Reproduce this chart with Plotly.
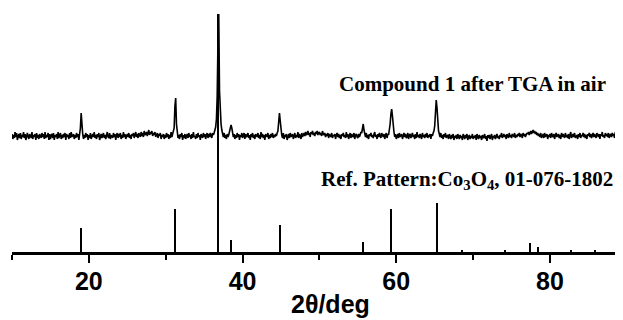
import numpy as np
import plotly.graph_objects as go

# ---------------- data ----------------
# Measured pattern (scan 10-90 deg, step 0.1 deg), intensity in a.u. above its own baseline
scan_start, scan_stop, scan_step = 10.0, 90.0, 0.1
trace_offset = 116  # vertical offset of the measured trace above the reference sticks

measured_intensity = [
    # 10.0 - 14.9
    2, -3, 1, -2, 4, -1, 3, -4, 0, 2, -2, 3, -3, 1, -1, 4, -2, 2, -4, 1,
    3, -1, -3, 2, 0, -2, 4, -3, 1, -1, 2, -4, 3, -2, 1, -3, 2, 0, -2, 3,
    -1, 2, -3, 4, -2, 1, -1, 3, -4, 2,
    # 15.0 - 19.9
    -3, 1, 2, -2, 3, -4, 1, -1, 2, -3, 4, -2, 0, 3, -3, 1, -2, 2, -1, 3,
    -4, 2, -1, 1, -3, 3, -2, 4, -1, 0, 2, -3, 1, -2, 3, -1, 2, -4, 3, 8,
    23, 8, 2, -3, 1, -2, 3, -1, 2, -4,
    # 20.0 - 24.9
    1, -2, 3, -3, 0, 2, -1, 4, -2, 1, -3, 2, -1, 3, -4, 1, 2, -2, 0, 3,
    -2, 1, -3, 2, 4, -1, -2, 3, -3, 1, 0, -2, 3, -1, 2, -4, 1, 3, -2, 2,
    -1, 3, -3, 1, -2, 4, -1, 2, -3, 0,
    # 25.0 - 29.9
    2, -1, 3, -2, 1, -3, 2, 0, 3, -2, 1, 4, -1, 2, -2, 3, 1, -1, 4, 0,
    3, -1, 5, 1, 2, 4, 0, 3, 6, 1, 4, 2, 5, 0, 3, 1, 4, -1, 2, 3,
    -2, 2, 0, 3, -3, 1, -1, 2, -3, 1,
    # 30.0 - 34.9
    -2, 3, -1, 2, -3, 1, -2, 4, -1, 2, 3, 8, 30, 38, 12, 4, -2, 1, -3, 2,
    -1, 3, -4, 1, -2, 2, -3, 0, 2, -2, 3, -1, 1, -3, 2, -2, 4, -1, 0, -3,
    2, -2, 3, -1, 1, -4, 2, 0, -2, 3,
    # 35.0 - 39.9
    -1, 2, -3, 1, 3, -2, 2, -1, 3, 0, -2, 3, 1, 3, 5, 9, 17, 40, 95, 122,
    45, 19, 12, 6, 2, -1, 3, -2, 1, -3, 2, -1, 1, 4, 7, 11, 8, 3, -1, 2,
    -3, 1, -2, 3, -1, 2, -4, 1, -1, 3,
    # 40.0 - 44.9
    -2, 1, 3, -3, 2, -1, 0, 3, -2, 1, -4, 2, -1, 3, -2, 1, -3, 2, 0, -1,
    3, -2, 1, -3, 4, -1, 2, -2, 1, -4, 2, 0, -1, 3, -3, 1, -2, 2, -1, 3,
    -2, 1, -1, 2, 0, 3, 5, 14, 23, 15,
    # 45.0 - 49.9
    5, 1, -2, 3, -3, 1, -1, 2, -4, 1, 2, -2, 3, -1, 0, 2, -3, 1, 3, -2,
    1, -1, 4, -2, 2, 0, -3, 3, -1, 1, 3, 0, 4, 1, 2, 5, 1, 3, -1, 4,
    2, 5, 1, 3, 0, 4, 2, 5, 1, 3,
    # 50.0 - 54.9
    4, 1, 3, 0, 5, 2, 1, 3, -1, 2, 0, 3, -2, 2, 1, -1, 3, -2, 1, 0,
    2, -3, 1, 3, -1, 2, -2, 1, -3, 2, 0, 3, -1, 1, -2, 4, -1, 2, -3, 1,
    3, -2, 2, 0, -1, 3, -3, 1, 2, -1,
    # 55.0 - 59.9
    -2, 2, -1, 1, 4, 3, 7, 12, 6, 2, -1, 3, -2, 1, -3, 2, 0, 3, -1, 1,
    -2, 2, 4, -1, 1, -3, 2, -1, 3, 0, -2, 3, 1, -1, 2, -3, 1, 3, -2, 2,
    1, 5, 12, 22, 27, 20, 9, 4, -1, 2,
    # 60.0 - 64.9
    -3, 1, 2, -2, 3, -1, 0, 2, -3, 1, 3, -1, 2, -2, -1, 3, -3, 1, 2, -2,
    0, 3, -1, 1, -3, 2, -2, 4, -1, 1, -2, 2, 0, -3, 3, -1, 1, -2, 2, -1,
    3, -2, 1, -1, 2, -3, 2, 0, 3, 5,
    # 65.0 - 69.9
    10, 24, 36, 28, 12, 5, 2, -1, 3, -2, 1, -3, 2, -1, 3, -2, 0, 1, -3, 2,
    -1, -3, 1, -2, 2, -4, 0, -2, 1, -3, 2, -1, -3, 1, -2, 0, -4, 2, -1, -3,
    1, -2, 2, -4, -1, 1, -3, 0, -2, 2,
    # 70.0 - 74.9
    -3, 0, -2, 1, -4, 2, -1, -3, 1, -2, 0, -4, 1, -2, -1, 2, -3, 0, -5, 1,
    -2, 1, -3, -1, 2, -4, 0, -2, 1, -3, -1, 2, -2, 0, -3, 1, -1, 3, -2, 0,
    2, -1, 1, -3, 2, 0, -2, 3, -1, 1,
    # 75.0 - 79.9
    -2, 2, 0, -1, 3, -2, 1, -1, 2, 0, 3, -1, 2, 1, -2, 3, 0, 2, -1, 1,
    3, 2, 4, 1, 3, 5, 2, 4, 6, 3, 5, 2, 4, 1, 3, 0, 2, -1, 3, -2,
    1, 2, -2, 3, -1, 0, 2, -3, 1, -1,
    # 80.0 - 84.9
    2, -2, 3, 0, -1, 2, -3, 1, 3, -1, 0, 2, -2, 1, -3, 3, -1, 2, 0, -2,
    3, -1, 1, -2, 2, -3, 1, 4, -2, 0, 2, -1, 3, -2, 0, 1, -3, 2, -1, 3,
    -2, 1, 0, 3, -1, 2, -2, 1, -3, 2,
    # 85.0 - 89.9
    0, 3, -1, 2, -2, 1, 3, -1, 2, 0, -2, 3, 1, -1, 2, -3, 2, 0, 4, -1,
    1, -2, 3, 0, 2, -1, 3, -2, 1, 2, -1, 3, 0, 2, -2, 4, 1, -1, 3, 0,
    2, -1, 3, 1, -2, 2, 0, 3, -1, 2,
    # 90.0
    1,
]

# Reference pattern Co3O4, 01-076-1802 (stick positions / relative heights)
ref_two_theta = [19.0, 31.27, 36.85, 38.55, 44.81, 55.66, 59.36, 65.24,
                 68.6, 74.1, 77.35, 78.4, 82.7, 85.8]
ref_intensity = [24, 43, 238, 12, 27, 10, 43, 49, 1.5, 2, 9.5, 5, 2, 1.5]

x_ticks = [20, 40, 60, 80]
x_tick_labels = ["20", "40", "60", "80"]

measured_label = "Compound 1 after TGA in air"
reference_label = "Ref. Pattern:Co<sub>3</sub>O<sub>4</sub>, 01-076-1802"
x_title = "2θ/deg"

# ---------------- figure ----------------
two_theta = np.round(np.linspace(scan_start, scan_stop, len(measured_intensity)), 2)
trace_y = np.array(measured_intensity, dtype=float) + trace_offset

fig = go.Figure()

fig.add_trace(go.Bar(
    x=ref_two_theta, y=ref_intensity, width=0.26,
    marker=dict(color="black", line=dict(width=0)),
    showlegend=False, hoverinfo="x+y",
))

fig.add_trace(go.Scatter(
    x=two_theta, y=trace_y, mode="lines",
    line=dict(color="black", width=1.6),
    showlegend=False,
))

serif = "Liberation Serif, Times New Roman, serif"
sans = "Liberation Sans, Arial, sans-serif"

fig.add_annotation(x=69.86, y=168.5, xref="x", yref="y", text=measured_label,
                   showarrow=False, xanchor="center", yanchor="middle",
                   font=dict(family=serif, size=21, color="black", weight="bold"))
fig.add_annotation(x=69.25, y=72, xref="x", yref="y", text=reference_label,
                   showarrow=False, xanchor="center", yanchor="middle",
                   font=dict(family=serif, size=21, color="black", weight="bold"))
fig.add_annotation(x=51.45, y=-0.213, xref="x", yref="paper", text=x_title,
                   showarrow=False, xanchor="center", yanchor="middle",
                   font=dict(family=sans, size=25, color="black", weight="bold"))

# the page adds an 8 px body margin, so the figure is sized/positioned to compensate
fig.update_layout(
    width=615, height=312,
    margin=dict(l=4, r=0, t=0, b=68),
    paper_bgcolor="white", plot_bgcolor="white",
    bargap=0,
    xaxis=dict(
        range=[10, 89.5], showgrid=False, zeroline=False,
        showline=True, linecolor="black", linewidth=2.5,
        ticks="outside", ticklen=8, tickwidth=2, tickcolor="black",
        tickvals=x_ticks, ticktext=x_tick_labels,
        ticklabelstandoff=-3,
        tickfont=dict(family=sans, size=25, color="black", weight="bold"),
        minor=dict(tickvals=[10, 30, 50, 70, 90], ticks="outside", ticklen=5,
                   tickwidth=2, tickcolor="black"),
    ),
    yaxis=dict(range=[0, 244], visible=False, showgrid=False, zeroline=False),
)

fig.write_html("out.html")
